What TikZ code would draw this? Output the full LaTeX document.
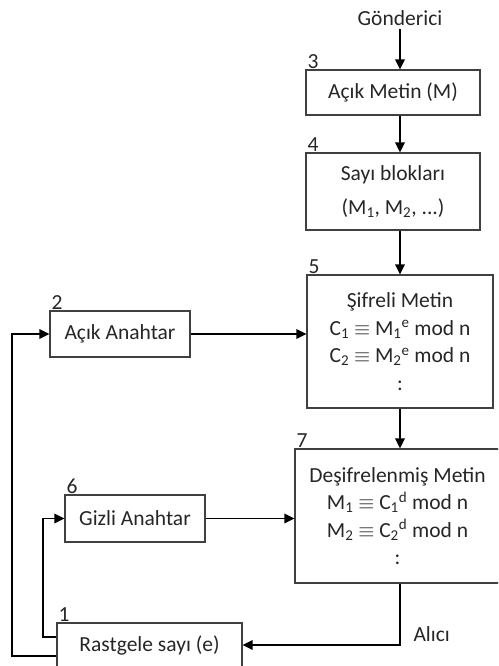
\documentclass[tikz,border=0pt]{standalone}
\usepackage{fontspec}
\setmainfont{Carlito}
\usepackage{tikz}
\usetikzlibrary{arrows.meta}
\tikzstyle{arrow} = [line width=1.4pt,-{Triangle[length=10pt,width=9.5pt]}]
\tikzstyle{box} = [rectangle, draw=black!75, line width=1.1pt, align=center, inner sep=0pt]
\tikzstyle{num} = [anchor=south west, inner sep=1pt, xshift=1pt]

\begin{document}
\begin{tikzpicture}[x=1pt, y=-1pt, font=\fontsize{21.5}{27.5}\selectfont, text=black!85]

        \useasboundingbox (0,0) rectangle (498,666);
        \clip (0,0) rectangle (498,666);

        \node (gond) at (400,18) {Gönderici};
        \node (acik) [box, minimum width=174pt, minimum height=45pt] at (393,92.5) {Açık Metin (M)};
        \node (sayi) [box, minimum width=174pt, minimum height=77pt] at (393,191.5) {Sayı blokları\\[7pt](M\textsubscript{1}, M\textsubscript{2}, ...)};
        \node (sifre) [box, minimum width=186pt, minimum height=133pt] at (400,341.5) {Şifreli Metin\\C\textsubscript{1} $\equiv$ M\textsubscript{1}\textsuperscript{e} mod n\\C\textsubscript{2} $\equiv$ M\textsubscript{2}\textsuperscript{e} mod n\\:};
        \node (acikan) [box, minimum width=140pt, minimum height=46pt] at (120,334) {Açık Anahtar};
        \node (desifre) [box, minimum width=205pt, minimum height=134pt] at (397.5,516) {Deşifrelenmiş Metin\\M\textsubscript{1} $\equiv$ C\textsubscript{1}\textsuperscript{d} mod n\\M\textsubscript{2} $\equiv$ C\textsubscript{2}\textsuperscript{d} mod n\\:};
        \node (gizli) [box, minimum width=140pt, minimum height=47pt] at (135,518.5) {Gizli Anahtar};
        \node (rast) [box, minimum width=185pt, minimum height=44pt] at (149.5,645) {Rastgele sayı (e)};

        \node (n3) [num] at (acik.north west) {3};
        \node (n4) [num] at (sayi.north west) {4};
        \node (n5) [num] at (sifre.north west) {5};
        \node (n2) [num] at (acikan.north west) {2};
        \node (n7) [num] at (desifre.north west) {7};
        \node (n6) [num] at (gizli.north west) {6};
        \node (n1) [num] at (rast.north west) {1};
        \node (alici) [anchor=west] at (410,634) {Alıcı};

        \coordinate (outer) at (12,656);
        \coordinate (inner) at (43,637);

        \draw[arrow] (gond) -- (gond |- acik.north);
        \draw[arrow] (acik.south -| gond) -- (gond |- sayi.north);
        \draw[arrow] (sayi.south -| gond) -- (gond |- sifre.north);
        \draw[arrow] (sifre.south -| gond) -- (gond |- desifre.north);
        \draw[arrow] (acikan.east) -- (acikan.east -| sifre.west);
        \draw[arrow] (gizli.east) -- (gizli.east -| desifre.west);
        \draw[arrow] (desifre.south -| gond) |- (rast.east);
        \draw[arrow] (rast.west |- outer) -- (outer) |- (acikan.west);
        \draw[arrow] (rast.west |- inner) -- (inner) |- (gizli.west);

    \end{tikzpicture}
\end{document}
